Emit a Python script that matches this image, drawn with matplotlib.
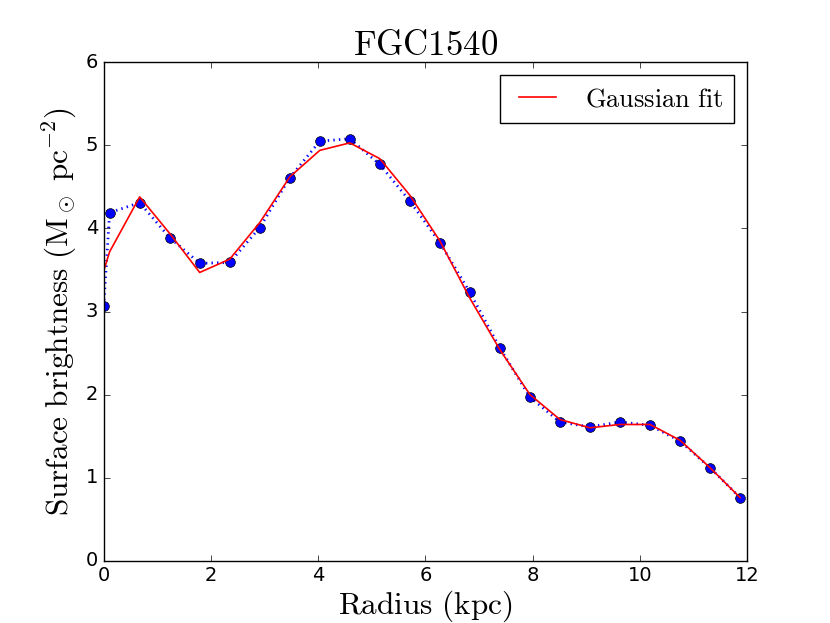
import matplotlib
matplotlib.use("Agg")
import matplotlib.pyplot as plt

plt.style.use('classic')
plt.rcParams['mathtext.fontset'] = 'cm'

radius = [0.0, 0.11, 0.67, 1.23, 1.79, 2.35, 2.91, 3.47, 4.03, 4.59, 5.15, 5.71,
          6.27, 6.83, 7.39, 7.95, 8.51, 9.07, 9.63, 10.19, 10.75, 11.31, 11.87]
brightness = [3.07, 4.19, 4.31, 3.89, 3.58, 3.59, 4.01, 4.61, 5.05, 5.08, 4.77, 4.33,
              3.83, 3.23, 2.56, 1.97, 1.67, 1.61, 1.67, 1.63, 1.44, 1.12, 0.76]
gauss_fit = [3.49, 3.72, 4.38, 3.94, 3.47, 3.63, 4.07, 4.62, 4.94, 5.03, 4.84, 4.40,
             3.85, 3.16, 2.54, 2.00, 1.70, 1.60, 1.64, 1.64, 1.45, 1.12, 0.76]

fig = plt.figure(figsize=(8.3, 6.23), dpi=100)
ax = fig.add_subplot(111)
ax.plot(radius, brightness, 'b:', lw=2)
ax.plot(radius, brightness, 'bo', ms=7)
ax.plot(radius, gauss_fit, 'r-', lw=1.2, label=r'$\mathrm{Gaussian\ fit}$')
ax.set_xlim(0, 12)
ax.set_ylim(0, 6)
ax.tick_params(labelsize=14)
ax.set_title(r'$\mathrm{FGC1540}$', fontsize=25)
ax.set_xlabel(r'$\mathrm{Radius\ (kpc)}$', fontsize=22.5, labelpad=2)
ax.set_ylabel(r'$\mathrm{Surface\ brightness\ (M_\odot\ pc^{-2})}$', fontsize=22.5)
ax.legend(loc='upper right', fontsize=19)
fig.savefig('out.png', dpi=100)
